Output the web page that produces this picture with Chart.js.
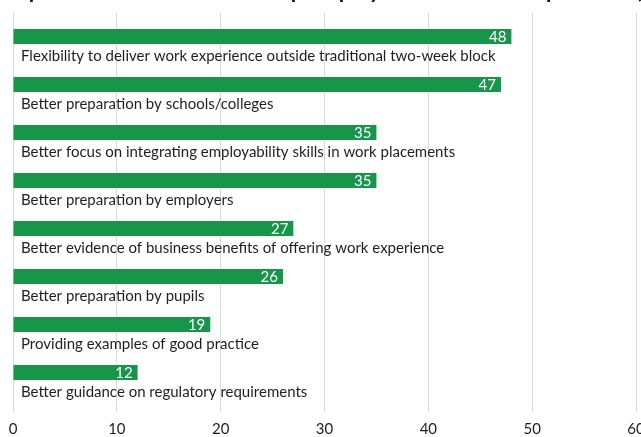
<!DOCTYPE html>
<html>
<head>
<meta charset="utf-8">
<script src="https://cdn.jsdelivr.net/npm/chart.js@4/dist/chart.umd.min.js"></script>
<style>
  html, body { margin: 0; padding: 0; background: #ffffff; }
  #frame { width: 641px; height: 437px; overflow: hidden; position: relative; }
  #box { width: 660px; height: 458px; position: absolute; left: 0; top: 0; }
</style>
</head>
<body>
<div id="frame"><div id="box"><canvas id="chart"></canvas></div></div>
<script>
// Survey answers, in descending order of share
const categories = [
  "Flexibility to deliver work experience outside traditional two-week block",
  "Better preparation by schools/colleges",
  "Better focus on integrating employability skills in work placements",
  "Better preparation by employers",
  "Better evidence of business benefits of offering work experience",
  "Better preparation by pupils",
  "Providing examples of good practice",
  "Better guidance on regulatory requirements"
];
const shares = [48, 47, 35, 35, 27, 26, 19, 12];
const xTicks = [0, 10, 20, 30, 40, 50, 60];
const titleText = "Improvements that would help employers offer work experience (%)";

const GREEN = "#17964a";
const TEXT = "#1f1f1f";
const FONT = "Lato, 'Open Sans', sans-serif";

// Category names below each bar, value inside the bar end, and the heading
const annotate = {
  id: "annotate",
  afterDatasetsDraw(chart) {
    const ctx = chart.ctx;
    const area = chart.chartArea;
    const meta = chart.getDatasetMeta(0);
    ctx.save();
    meta.data.forEach((bar, i) => {
      // value inside bar
      ctx.font = "15px " + FONT;
      ctx.fillStyle = "#ffffff";
      ctx.textAlign = "right";
      ctx.textBaseline = "middle";
      ctx.fillText(String(shares[i]), bar.x - 5, bar.y + 0.5);
      // category under bar
      ctx.font = "15px " + FONT;
      ctx.fillStyle = TEXT;
      ctx.textAlign = "left";
      ctx.textBaseline = "alphabetic";
      ctx.fillText(categories[i], area.left + 8, bar.y + 24.5);
    });
    ctx.font = "bold 22px " + FONT;
    ctx.fillStyle = "#111111";
    ctx.textAlign = "left";
    ctx.textBaseline = "alphabetic";
    ctx.fillText(titleText, 4, -2);
    ctx.restore();
  }
};

new Chart(document.getElementById("chart"), {
  type: "bar",
  data: {
    labels: categories,
    datasets: [{
      data: shares,
      backgroundColor: GREEN,
      borderWidth: 0,
      categoryPercentage: 1,
      barPercentage: 0.31
    }]
  },
  options: {
    indexAxis: "y",
    responsive: true,
    maintainAspectRatio: false,
    animation: false,
    layout: { padding: { top: 12.5, left: 13, right: 24, bottom: 11.5 } },
    plugins: { legend: { display: false }, tooltip: { enabled: false }, title: { display: false } },
    scales: {
      y: { display: false },
      x: {
        min: xTicks[0],
        max: xTicks[xTicks.length - 1],
        afterBuildTicks(scale) { scale.ticks = xTicks.map(v => ({ value: v })); },
        border: { display: false },
        grid: { color: "#d9d9d9", lineWidth: 1, tickLength: 16, drawTicks: true },
        ticks: { color: TEXT, padding: 8, font: { family: FONT, size: 15 } }
      }
    }
  },
  plugins: [annotate]
});
</script>
</body>
</html>
